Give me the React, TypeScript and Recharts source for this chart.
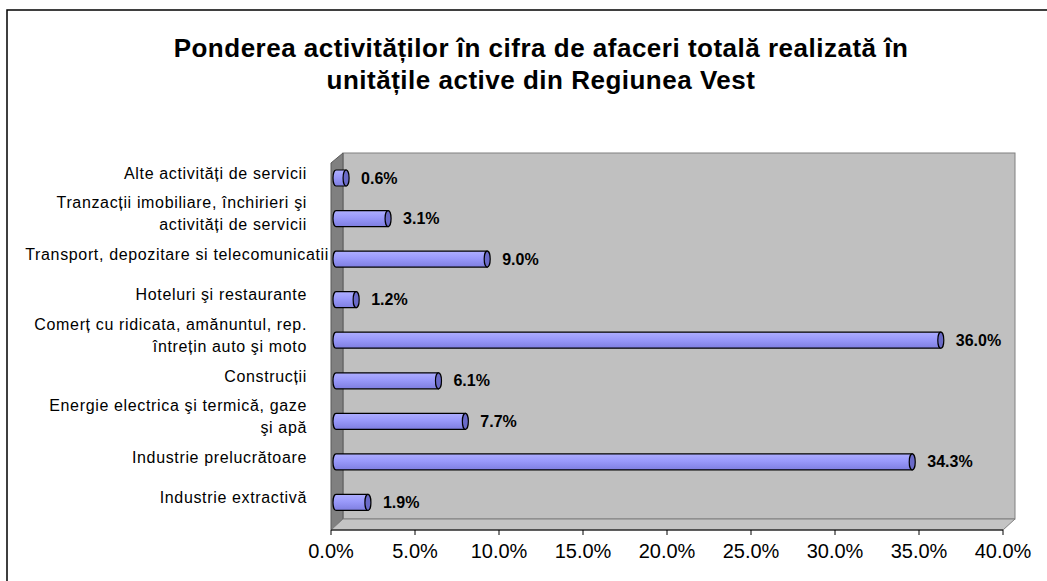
import { BarChart, Bar, XAxis, YAxis, LabelList } from "recharts";

// top to bottom, as in the chart
const categories = [
  "Alte activități de servicii",
  "Tranzacții imobiliare, închirieri şi\nactivități de servicii",
  "Transport, depozitare si telecomunicatii",
  "Hoteluri şi restaurante",
  "Comerț cu ridicata, amănuntul, rep.\nîntrețin auto şi moto",
  "Construcții",
  "Energie electrica şi termică, gaze\nşi apă",
  "Industrie prelucrătoare",
  "Industrie extractivă",
];
const shares = [0.6, 3.1, 9.0, 1.2, 36.0, 6.1, 7.7, 34.3, 1.9];
const xTicks = [0, 5, 10, 15, 20, 25, 30, 35, 40];
const titleLines = [
  "Ponderea activităților în cifra de afaceri totală realizată în",
  "unitățile active din Regiunea Vest",
];

const data = categories.map((name, i) => ({ name, value: shares[i] }));

const W = 1047;
const H = 581;
const LEFT = 331;
const RIGHT = 1003;
const TOP = 155;
const BOTTOM = 530;
const DX = 12;
const DY = 11;
const FONT = "'Liberation Sans', Arial, Helvetica, sans-serif";

const Cylinder = (props: any) => {
  const { x, y, width, height } = props;
  const s = 5;
  const rx = 3;
  const x0 = x + s;
  const x1 = x + s + Math.max(width, 0);
  const ry = height / 2;
  const body = `M${x1},${y} L${x0},${y} A${rx},${ry} 0 0 0 ${x0},${y + height} L${x1},${y + height} Z`;
  return (
    <g>
      <path d={body} fill="url(#barGrad)" stroke="#000" strokeWidth={1.2} />
      <ellipse cx={x1} cy={y + ry} rx={rx} ry={ry} fill="#6a6ac8" stroke="#000" strokeWidth={1.2} />
    </g>
  );
};

const ValueLabel = (props: any) => {
  const { x, y, width, height, value } = props;
  return (
    <text
      x={x + width + 20}
      y={y + height / 2}
      dominantBaseline="central"
      fontFamily={FONT}
      fontWeight="bold"
      fontSize={16}
      fill="#000"
    >
      {`${Number(value).toFixed(1)}%`}
    </text>
  );
};

const CategoryTick = (props: any) => {
  const { y, payload } = props;
  const lines = String(payload.value).split("\n");
  const yc = y - 5;
  // a long unwrapped label runs up to the wall, as in the original
  const anchorX = lines.length === 1 && lines[0].length > 36 ? 329 : 307;
  return (
    <text textAnchor="end" fontFamily={FONT} fontSize={16} fill="#000" letterSpacing={0.65}>
      {lines.map((line, j) => (
        <tspan key={j} x={anchorX} y={yc + (j - (lines.length - 1) / 2) * 22} dominantBaseline="central">
          {line}
        </tspan>
      ))}
    </text>
  );
};

const Walls = () => (
  <svg width={W} height={H} style={{ position: "absolute", left: 0, top: 0 }}>
    <defs>
      <linearGradient id="barGrad" x1="0" y1="0" x2="0" y2="1">
        <stop offset="0%" stopColor="#aeaeff" />
        <stop offset="45%" stopColor="#9999fa" />
        <stop offset="100%" stopColor="#7e7ee0" />
      </linearGradient>
    </defs>
    <rect x={7} y={10} width={1200} height={800} fill="#fff" stroke="#000" strokeWidth={1.5} />
    <rect x={LEFT + DX} y={TOP - 2} width={RIGHT - LEFT} height={BOTTOM - DY - TOP + 2} fill="#c0c0c0" stroke="#808080" />
    <polygon
      points={`${LEFT},${TOP + 8} ${LEFT + DX},${TOP - 2} ${LEFT + DX},${BOTTOM - DY} ${LEFT},${BOTTOM}`}
      fill="#808080"
      stroke="#5a5a5a"
    />
    <polygon
      points={`${LEFT},${BOTTOM} ${LEFT + DX},${BOTTOM - DY} ${RIGHT + DX},${BOTTOM - DY} ${RIGHT},${BOTTOM}`}
      fill="#c4c4c4"
      stroke="#808080"
    />
  </svg>
);

export default function App() {
  return (
    <div style={{ position: "absolute", left: 0, top: 0, width: W, height: H, background: "#fff" }}>
      <Walls />
      <svg width={W} height={120} style={{ position: "absolute", left: 0, top: 0 }}>
        {titleLines.map((t, i) => (
          <text
            key={i}
            x={541}
            y={57 + i * 32}
            textAnchor="middle"
            fontFamily={FONT}
            fontWeight="bold"
            fontSize={26}
            letterSpacing={0.5}
            fill="#000"
          >
            {t}
          </text>
        ))}
      </svg>
      <div style={{ position: "absolute", left: 0, top: 0 }}>
        <BarChart
          width={W}
          height={H}
          data={data}
          layout="vertical"
          margin={{ top: TOP, right: W - RIGHT, bottom: H - BOTTOM - 30, left: 0 }}
        >
          <XAxis
            type="number"
            domain={[0, 40]}
            ticks={xTicks}
            interval={0}
            height={30}
            tickFormatter={(v: number) => `${v.toFixed(1)}%`}
            axisLine={{ stroke: "#000" }}
            tickLine={{ stroke: "#000" }}
            tickSize={5}
            tickMargin={9}
            tick={{ fill: "#000", fontSize: 20, fontFamily: FONT }}
          />
          <YAxis
            type="category"
            dataKey="name"
            width={LEFT}
            interval={0}
            axisLine={false}
            tickLine={false}
            padding={{ top: 3, bottom: 7 }}
            tick={<CategoryTick />}
          />
          <Bar dataKey="value" barSize={16} shape={<Cylinder />} isAnimationActive={false}>
            <LabelList dataKey="value" content={<ValueLabel />} />
          </Bar>
        </BarChart>
      </div>
    </div>
  );
}
